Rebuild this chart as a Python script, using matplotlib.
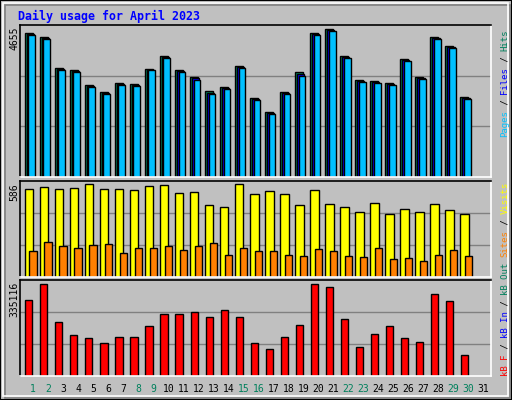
import matplotlib
matplotlib.use('Agg')
import matplotlib.pyplot as plt
from matplotlib.patches import Rectangle

W, H = 512, 400

days = list(range(1, 32))
weekend = [1, 2, 8, 9, 15, 16, 22, 23, 29, 30]

hits = [4529, 4402, 3423, 3360, 2886, 2665, 2950, 2918, 3392, 3802, 3360, 3139, 2697, 2823, 3486,
        2476, 2034, 2675, 3297, 4529, 4655, 3802, 3044, 3013, 2950, 3707, 3139, 4402, 4118, 2507]
files = [4500, 4370, 3400, 3330, 2860, 2640, 2920, 2880, 3370, 3770, 3330, 3100, 2650, 2790, 3460,
         2450, 2010, 2650, 3240, 4490, 4620, 3780, 3020, 2990, 2920, 3680, 3110, 4370, 4080, 2480]
pages = [4470, 4340, 3380, 3300, 2830, 2600, 2890, 2850, 3350, 3730, 3300, 3060, 2600, 2760, 3440,
         2430, 1980, 2620, 3190, 4460, 4590, 3750, 3000, 2970, 2890, 3650, 3080, 4340, 4050, 2460]
visits = [554, 567, 554, 561, 586, 554, 554, 548, 573, 580, 529, 535, 453, 440, 586,
          523, 542, 523, 453, 548, 459, 440, 408, 465, 396, 427, 408, 459, 421, 396]
sites = [161, 218, 192, 180, 199, 205, 148, 180, 180, 192, 167, 192, 211, 135, 180,
         161, 161, 135, 129, 173, 161, 129, 123, 180, 110, 116, 97, 135, 167, 129]
kbytes = [276390, 335116, 195640, 147920, 136910, 118560, 140580, 140580, 180960, 225000,
          225000, 232340, 213990, 239680, 213990, 118560, 96530, 140580, 184630, 335116,
          324100, 206650, 103880, 151590, 180960, 136910, 122230, 298410, 272720, 74510]

GRAY = '#c0c0c0'
MONO = 'DejaVu Sans Mono'

fig = plt.figure(figsize=(W / 100, H / 100), dpi=100)
fig.patch.set_facecolor(GRAY)


def px_rect(x0, y0, x1, y1):
    """rect en pixeles (origen arriba-izquierda) -> coords de figura"""
    return [x0 / W, 1 - y1 / H, (x1 - x0) / W, (y1 - y0) / H]


# marco biselado exterior
fig.add_artist(Rectangle((0, 0), 1, 1, transform=fig.transFigure, fill=False,
                         edgecolor='k', linewidth=1.5))
fig.add_artist(Rectangle((3 / W, 4 / H), 1 - 7 / W, 1 - 7 / H, transform=fig.transFigure,
                         fill=False, edgecolor='white', linewidth=1.2))
fig.add_artist(Rectangle((5 / W, 2 / H), 1 - 7 / W, 1 - 7 / H, transform=fig.transFigure,
                         fill=False, edgecolor='#808080', linewidth=1.2, zorder=-1))

fig.text(18 / W, 1 - 16 / H, 'Daily usage for April 2023', color='#0000ff',
         family=MONO, fontweight='bold', fontsize=8.4, va='center', ha='left')

XL = (0.27, 31.65)


def panel(y0, y1, ymax):
    ax = fig.add_axes(px_rect(20, y0, 491, y1))
    ax.set_facecolor(GRAY)
    ax.set_xlim(*XL)
    ax.set_ylim(0, ymax)
    for g in (ymax / 3, 2 * ymax / 3):
        ax.axhline(g, color='#808080', linewidth=1, zorder=0)
    ax.set_xticks([])
    ax.set_yticks([])
    for s in ax.spines.values():
        s.set_linewidth(1.2)
    ax.spines['bottom'].set_color('white')
    ax.spines['right'].set_color('white')
    return ax


def side_label(ypx_bottom, parts):
    """texto vertical multicolor a la derecha"""
    step = 5.4
    y = ypx_bottom
    for txt, col in parts:
        fig.text(505 / W, 1 - y / H, txt, color=col, family=MONO, fontsize=6.5,
                 rotation=90, ha='center', va='bottom')
        y -= step * len(txt)


n = len(hits)
x = days[:n]
bk = dict(edgecolor='k', linewidth=1, align='edge')

# ---- Hits / Files / Pages ----
ax1 = panel(25, 176.7, 4784)
ax1.bar([d - 0.4 for d in x], hits, width=0.52, color='#00805c', **bk)
ax1.bar([d - 0.28 for d in x], files, width=0.5, color='#0000ff', **bk)
ax1.bar([d - 0.17 for d in x], pages, width=0.46, color='#00c0ff', **bk)
fig.text(14 / W, 1 - 27 / H, str(max(hits)), rotation=90, family=MONO, fontsize=7,
         ha='center', va='top')
side_label(137, [('Pages', '#00c0ff'), (' / ', 'k'), ('Files', '#0000ff'),
                 (' / ', 'k'), ('Hits', '#00805c')])

# ---- Visits / Sites ----
ax2 = panel(180.7, 276.7, 609)
ax2.bar([d - 0.39 for d in x], visits, width=0.55, color='#ffff00', **bk)
ax2.bar([d - 0.1 for d in x], sites, width=0.47, color='#ff8000', **bk)
fig.text(14 / W, 1 - 183 / H, str(max(visits)), rotation=90, family=MONO, fontsize=7,
         ha='center', va='top')
side_label(257, [('Sites', '#ff8000'), (' / ', 'k'), ('Visits', '#ffff00')])

# ---- kB F ----
ax3 = panel(280, 375.7, 351400)
ax3.bar([d - 0.37 for d in x], kbytes, width=0.47, color='#ff0000', **bk)
fig.text(14 / W, 1 - 282 / H, str(max(kbytes)), rotation=90, family=MONO, fontsize=7,
         ha='center', va='top')
side_label(376, [('kB F', '#ff0000'), (' / ', 'k'), ('kB In', '#0000ff'),
                 (' / ', 'k'), ('kB Out', '#00805c')])

# rotulos de dias
for d in days:
    xf = (20 + (d + 0.15 - XL[0]) / (XL[1] - XL[0]) * 471) / W
    fig.text(xf, 1 - 389 / H, str(d), family=MONO, fontsize=7, ha='center', va='center',
             color='#00805c' if d in weekend else 'k')

fig.savefig('out.png', dpi=100, facecolor=GRAY)
